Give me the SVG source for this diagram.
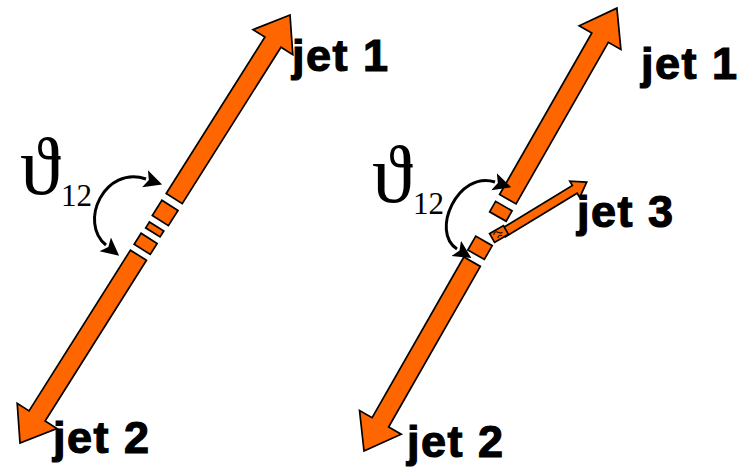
<svg xmlns="http://www.w3.org/2000/svg" width="751" height="467" viewBox="0 0 751 467">
<style>
.arw{fill:#FF6600;stroke:#000;stroke-width:1.7;stroke-linejoin:miter}
.lbl{font-family:"Liberation Sans",Arial,sans-serif;font-weight:bold;font-size:45px;fill:#000;stroke:#000;stroke-width:1.2;letter-spacing:1.5px}
.th{font-family:"Liberation Serif","DejaVu Serif",serif;fill:#000}
.crv{fill:none;stroke:#000;stroke-width:3}
</style>
<defs>
<marker id="ah" markerUnits="userSpaceOnUse" markerWidth="24" markerHeight="24" refX="1" refY="0" viewBox="0 -12 24 24" orient="auto-start-reverse">
<path d="M0,-9 L18,0 L0,9 L4,0 z" fill="#000"/>
</marker>
</defs>
<g id="left-event">
<g id="left-jets" transform="translate(20,443) rotate(-57.75)">
<polygon class="arw" points="0,0 32,-23.5 32,-9.5 222,-9.5 222,9.5 32,9.5 32,23.5"/>
<rect class="arw" x="229" y="-9.5" width="13" height="19"/>
<rect class="arw" x="249" y="-8.5" width="7" height="17"/>
<rect class="arw" x="263" y="-9.5" width="18" height="19"/>
<polygon class="arw" points="506,0 474,-23.5 474,-9.5 289,-9.5 289,9.5 474,9.5 474,23.5"/>
</g>
</g>
<g id="right-event">
<g id="right-jets" transform="translate(364,451) rotate(-60.27)">
<polygon class="arw" points="0,0 33,-24 33,-9.5 218,-9.5 218,9.5 33,9.5 33,24"/>
<rect class="arw" x="226" y="-9.5" width="16" height="19"/>
<rect class="arw" x="270" y="-9.5" width="12" height="19"/>
<polygon class="arw" points="510,0 476,-24 476,-9.5 290,-9.5 290,9.5 476,9.5 476,24"/>
</g>
<g id="jet3" transform="translate(503,233) rotate(-31.3)">
<polygon class="arw" points="98,0 84,-9.5 84,-4.5 0,-4.5 0,4.5 84,4.5 84,9.5"/>
</g>
<g id="splash" transform="translate(499,234) rotate(-30)">
<rect class="arw" x="-8" y="-5" width="16" height="10"/>
<path d="M-5,-2 q3,-3 5,0 t4,2 M-3,3 q2,-3 5,0" fill="none" stroke="#000" stroke-width="1"/>
</g>
</g>
<g id="connectors">
<path class="crv" d="M146,179 C105,165 78,222 106,245" marker-start="url(#ah)" marker-end="url(#ah)"/>
<path class="crv" d="M495,182 C458,170 430,232 457,249" marker-start="url(#ah)" marker-end="url(#ah)"/>
</g>
<g id="labels">
<text class="lbl" x="292" y="71">jet 1</text>
<text class="lbl" x="53" y="453">jet 2</text>
<text class="lbl" x="641" y="79">jet 1</text>
<text class="lbl" x="407" y="457">jet 2</text>
<text class="lbl" x="577" y="227">jet 3</text>
<text class="th" x="20" y="194" font-size="82">ϑ</text>
<text class="th" x="61" y="206" font-size="31">12</text>
<text class="th" x="372" y="202" font-size="82">ϑ</text>
<text class="th" x="413" y="214" font-size="31">12</text>
</g>
</svg>
